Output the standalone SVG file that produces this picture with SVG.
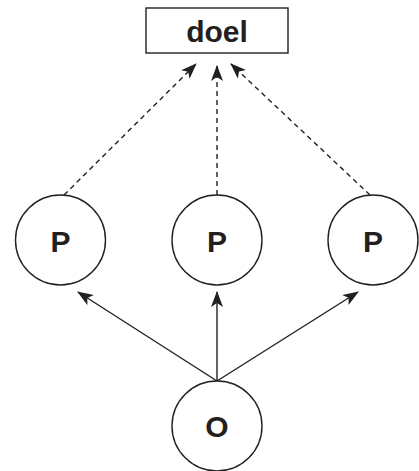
<svg xmlns="http://www.w3.org/2000/svg" width="419" height="471" viewBox="0 0 419 471">
<defs>
<marker id="ah" viewBox="0 0 16 12" refX="15" refY="6" markerWidth="16" markerHeight="12" markerUnits="userSpaceOnUse" orient="auto">
<path d="M0,0 L16,6 L0,12 L4,6 Z" fill="#231f20"/>
</marker>
</defs>
<style>
.n{fill:#fff;stroke:#231f20;stroke-width:1.4}
.t{font-family:"Liberation Sans",Arial,sans-serif;font-weight:bold;font-size:30px;fill:#231f20;text-anchor:middle}
.e{stroke:#231f20;stroke-width:1.4;fill:none;marker-end:url(#ah)}
.d{stroke-dasharray:5,4}
</style>
<rect width="419" height="471" fill="#fff"/>
<g id="edges">
<line class="e d" x1="64" y1="195" x2="196" y2="64"/>
<line class="e d" x1="217" y1="195" x2="217" y2="66"/>
<line class="e d" x1="370" y1="195" x2="231" y2="64"/>
<line class="e" x1="217" y1="381" x2="78" y2="292"/>
<line class="e" x1="217" y1="381" x2="217" y2="292"/>
<line class="e" x1="217" y1="381" x2="358" y2="292"/>
</g>
<g id="doel">
<rect class="n" x="146" y="8" width="142" height="45"/>
<text class="t" x="217" y="42">doel</text>
</g>
<g id="p1">
<circle class="n" cx="60.5" cy="240" r="45"/>
<text class="t" x="60.5" y="252">P</text>
</g>
<g id="p2">
<circle class="n" cx="217" cy="240" r="45"/>
<text class="t" x="217" y="252">P</text>
</g>
<g id="p3">
<circle class="n" cx="373" cy="240" r="45"/>
<text class="t" x="373" y="252">P</text>
</g>
<g id="o">
<circle class="n" cx="217" cy="426" r="45"/>
<text class="t" x="217" y="437">O</text>
</g>
</svg>
